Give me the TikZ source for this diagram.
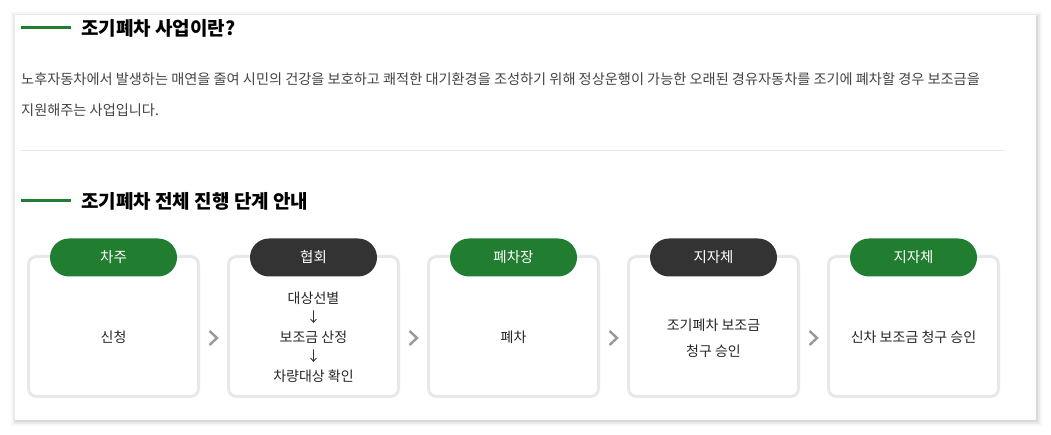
\documentclass[tikz,border=0pt]{standalone}
\usepackage{fontspec}
\setmainfont{Noto Sans CJK KR}
\usetikzlibrary{positioning,calc}
\definecolor{stepgreen}{HTML}{217D2F}
\definecolor{stepdark}{HTML}{333333}
\definecolor{bodygray}{HTML}{444444}
\definecolor{rimgray}{HTML}{E8E8E8}

\begin{document}
\begin{tikzpicture}
  [x=1pt, y=-1pt,
    panel/.style={rectangle, fill=white, minimum width=1021pt, minimum height=405pt, anchor=north west, inner sep=0pt},
    heading/.style={anchor=west, inner sep=0pt, font=\fontsize{19}{22}\selectfont\bfseries, text=black},
    bar/.style={draw=stepgreen, line width=3pt},
    body/.style={anchor=west, inner sep=0pt, align=left, text=bodygray, font=\fontsize{14.2}{31}\selectfont},
    stepbox/.style={rectangle, draw=rimgray, line width=3pt, rounded corners=8pt, fill=white, minimum width=170pt, minimum height=140pt, inner sep=0pt},
    steptext/.style={inner sep=0pt, align=center, text=black!85, font=\fontsize{14}{20}\selectfont},
    pill/.style={rectangle, rounded corners=19pt, minimum width=127pt, minimum height=38pt, inner sep=0pt, text=white, font=\fontsize{14.5}{18}\selectfont},
    chevron/.style={draw=black!40, line width=2.4pt}
  ]

  \useasboundingbox (0,0) rectangle (1051,435);

  % shadow + panel
  \foreach \s/\o in {6/0.03,4/0.05,2/0.07} {
    \fill[black, opacity=\o] (15-\s+2, 15-\s+3) rectangle (1036+\s, 420+\s);
  }
  \node[panel] (pnl) at (15,15) {};

  % headings
  \node[heading] (t1) at (81,28) {조기폐차 사업이란?};
  \draw[bar] ([xshift=-60pt]t1.west) -- ([xshift=-10pt]t1.west);

  \node[body] (txt) at (21,95) {노후자동차에서 발생하는 매연을 줄여 시민의 건강을 보호하고 쾌적한 대기환경을 조성하기 위해 정상운행이 가능한 오래된 경유자동차를 조기에 폐차할 경우 보조금을\\지원해주는 사업입니다.};

  \draw[rimgray, line width=1pt] (21,151) coordinate (sepl) -- (1005,151) coordinate (sepr);

  \node[heading] (t2) at (81,201) {조기폐차 전체 진행 단계 안내};
  \draw[bar] ([xshift=-60pt]t2.west) -- ([xshift=-10pt]t2.west);

  % step boxes
  \path (113.5,326.5) node[stepbox] (b1) {}
      ++(200,0) node[stepbox] (b2) {}
      ++(200,0) node[stepbox] (b3) {}
      ++(200,0) node[stepbox] (b4) {}
      ++(200,0) node[stepbox] (b5) {};

  \node[steptext] (s1) at ($(b1.center)+(0,10.5)$) {신청};
  \node[steptext] (s2) at ($(b2.center)+(0,10.5)$) {대상선별\\[-1pt]↓\\보조금 산정\\[-1pt]↓\\차량대상 확인};
  \node[steptext] (s3) at ($(b3.center)+(0,10.5)$) {폐차};
  \node[steptext] (s4) at ($(b4.center)+(0,11.5)$) {조기폐차 보조금\\[6pt]청구 승인};
  \node[steptext] (s5) at ($(b5.center)+(0,10.5)$) {신차 보조금 청구 승인};

  % labels on top
  \foreach \b/\c/\t in {1/stepgreen/차주, 2/stepdark/협회, 3/stepgreen/폐차장, 4/stepdark/지자체, 5/stepgreen/지자체} {
    \node[pill, fill=\c] (p\b) at ($(b\b.north)+(0,2.5)$) {\t};
  }

  % chevrons
  \foreach \a/\b in {1/2, 2/3, 3/4, 4/5} {
    \coordinate (c\a) at ($(b\a.east)!0.5!(b\b.west)+(0,11.5)$);
    \draw[chevron] ($(c\a)+(-4,-7)$) -- ($(c\a)+(3.5,0)$) -- ($(c\a)+(-4,7)$);
  }

\end{tikzpicture}
\end{document}
